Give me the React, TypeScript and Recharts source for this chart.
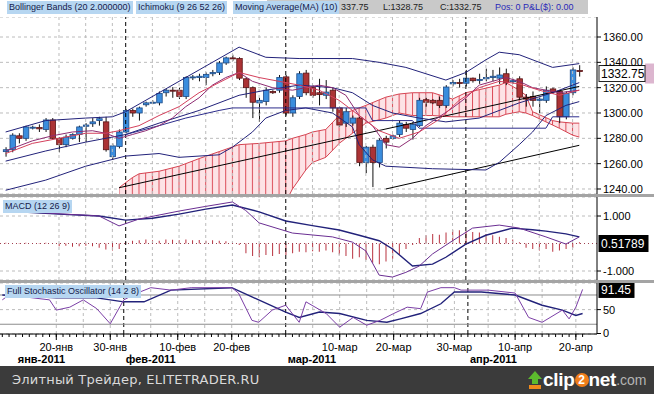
import React from "react";
import {
  ComposedChart,
  Bar,
  Line,
  Area,
  XAxis,
  YAxis,
  CartesianGrid,
  ReferenceLine,
} from "recharts";

// trading sessions, sunday evening bars included
const janDays = [11, 12, 13, 14, 16, 17, 18, 19, 20, 21, 23, 24, 25, 26, 27, 28, 30, 31];
const febDays = [1, 2, 3, 4, 6, 7, 8, 9, 10, 11, 13, 14, 15, 16, 17, 18, 20, 21, 22, 23, 24, 25, 27, 28];
const marDays = [1, 2, 3, 4, 6, 7, 8, 9, 10, 11, 13, 14, 15, 16, 17, 18, 20, 21, 22, 23, 24, 25, 27, 28, 29, 30, 31];
const aprDays = [1, 3, 4, 5, 6, 7, 8, 10, 11, 12, 13, 14, 15, 17, 18, 19, 20, 21];

const opens = [
  1269.5, 1271, 1282, 1280, 1288.5, 1288.5, 1287, 1294.5, 1280, 1275,
  1280, 1283, 1289.5, 1291.5, 1294, 1293, 1265.5, 1273.5, 1285, 1302,
  1300, 1306.5, 1308, 1308, 1316, 1318, 1318, 1313, 1328, 1328,
  1328, 1331, 1332, 1339.5, 1343.5, 1343, 1327, 1320, 1308, 1309,
  1317, 1318, 1328.5, 1300, 1313, 1331.5, 1320, 1316, 1314, 1318,
  1304, 1292, 1292, 1296, 1261, 1273, 1261, 1280, 1280, 1283,
  1291, 1287, 1290, 1310.5, 1310, 1310, 1306, 1323, 1324, 1323.5,
  1327.5, 1326, 1327, 1328, 1327.5, 1331, 1325, 1327, 1312.5, 1313,
  1310, 1310, 1319, 1317, 1297, 1316, 1333.5,
];
const highs = [
  1273, 1284, 1284, 1290, 1290, 1291, 1296, 1296, 1281, 1283,
  1284, 1290, 1292, 1296, 1297, 1297, 1276, 1287, 1303, 1303.5,
  1305, 1309, 1310, 1317, 1319, 1320.5, 1320, 1329, 1330, 1331,
  1332, 1334, 1341, 1344.5, 1346, 1344, 1328, 1321, 1312, 1320,
  1318, 1330, 1330, 1314, 1333, 1334, 1322, 1327, 1326, 1320,
  1305, 1304, 1298, 1297, 1274, 1275, 1280, 1282, 1283, 1294,
  1293, 1293, 1312, 1312, 1311, 1313, 1322, 1326, 1327, 1334,
  1328, 1331, 1335, 1334, 1336, 1335, 1327, 1329, 1315, 1317,
  1313, 1321, 1320, 1318, 1317, 1336, 1337.75,
];
const lows = [
  1265.5, 1269, 1276, 1278, 1287, 1285, 1285, 1279, 1269, 1273,
  1279, 1277, 1277, 1289, 1290, 1269.5, 1263, 1272, 1284, 1297,
  1294, 1305, 1307, 1306, 1313, 1312, 1311, 1311, 1326, 1325,
  1322, 1329, 1330, 1338, 1341, 1326, 1312, 1296, 1293, 1306,
  1315, 1316, 1298, 1297, 1311, 1314, 1312, 1306, 1311, 1301,
  1289, 1289, 1290, 1258, 1252.5, 1241.5, 1257, 1272, 1279, 1281,
  1285, 1279, 1289, 1305, 1307, 1304, 1304, 1321, 1320, 1321,
  1324, 1323, 1325, 1325, 1323, 1322, 1323, 1311, 1305, 1305,
  1300, 1308, 1315, 1292, 1295, 1314, 1328.75,
];
const closes = [
  1271, 1282.5, 1280, 1289, 1288.8, 1287.5, 1294.5, 1280, 1275, 1281,
  1283, 1289, 1290.5, 1293, 1295.5, 1271, 1274, 1285, 1302, 1300,
  1304, 1308, 1308.5, 1315.5, 1318, 1317.5, 1313, 1328, 1328.5, 1329,
  1330.5, 1332, 1339.5, 1343.5, 1343, 1327.5, 1320, 1308.5, 1310, 1318,
  1316, 1328, 1300, 1312, 1331, 1316, 1314, 1314.5, 1316.5, 1304,
  1290.5, 1301, 1296, 1261, 1273, 1261, 1278.5, 1277, 1282, 1292,
  1288, 1291, 1310, 1308.5, 1308, 1306, 1320.5, 1324, 1323.5, 1327.5,
  1325.5, 1326.5, 1328, 1329, 1330, 1324, 1325.5, 1312.5, 1311, 1310,
  1311, 1318, 1317, 1297, 1315.5, 1334, 1332.75,
];

// indicator lines as [bar index, value]
const bbUpper = [[0, 1285], [6, 1294], [12, 1296], [16, 1297], [18, 1301], [23, 1316], [29, 1334], [35, 1352], [39, 1344], [44, 1343], [52, 1343], [56, 1340], [60, 1336], [66, 1326], [69, 1332], [72, 1342], [74, 1348], [77, 1346], [82, 1336], [86, 1339]];
const bbMid = [[0, 1262], [6, 1270], [12, 1277], [18, 1283], [23, 1292], [29, 1302], [35, 1314], [39, 1318], [44, 1322], [49, 1320], [52, 1316], [55, 1306], [58, 1300], [62, 1296], [66, 1293], [71, 1296], [77, 1308], [82, 1316], [86, 1324]];
const bbLower = [[0, 1239], [6, 1247], [12, 1258], [18, 1266], [23, 1268], [26, 1265], [32, 1267], [34, 1273], [37, 1285], [39, 1296], [42, 1302], [45, 1304], [49, 1300], [52, 1289], [53, 1275], [55, 1263], [57, 1258], [64, 1256], [72, 1255], [74, 1261], [77, 1275], [79, 1285], [81, 1298], [84, 1306], [86, 1309]];
const kijun = [[18, 1283], [23, 1290], [27, 1296], [32, 1302], [34, 1304], [54, 1304], [55, 1294], [61, 1294], [62, 1288], [81, 1288], [82, 1297], [86, 1297]];
const tenkan = [[0, 1270], [4, 1278], [7, 1282], [10, 1285], [13, 1286], [15, 1284], [17, 1280], [19, 1283], [21, 1286], [23, 1290], [25, 1296], [27, 1305], [29, 1312], [31, 1322], [33, 1328], [35, 1332], [37, 1325], [40, 1320], [43, 1318], [45, 1320], [47, 1322], [49, 1320], [51, 1314], [53, 1298], [55, 1290], [57, 1275], [59, 1273], [61, 1280], [63, 1290], [65, 1297], [67, 1304], [69, 1312], [71, 1322], [73, 1325], [75, 1328], [77, 1325], [79, 1320], [81, 1318], [83, 1316], [86, 1318]];
const ma10 = [[0, 1268], [4, 1276], [8, 1280], [12, 1284], [15, 1284], [17, 1286], [20, 1290], [23, 1298], [26, 1305], [29, 1316], [32, 1324], [35, 1332], [38, 1328], [41, 1325], [44, 1322], [47, 1318], [50, 1310], [53, 1298], [56, 1286], [59, 1280], [62, 1285], [65, 1295], [68, 1310], [71, 1320], [74, 1325], [77, 1323], [80, 1318], [83, 1314], [86, 1318]];
// cloud: [bar index, lower edge, upper edge]
const kumo = [[17, 1230, 1241], [19, 1230, 1249], [20, 1230, 1252], [23, 1230, 1254], [26, 1230, 1258], [29, 1230, 1264], [32, 1230, 1269.5], [35, 1230, 1275], [38, 1230, 1276], [42, 1230, 1278], [43, 1240, 1280], [45, 1255, 1283], [46, 1261, 1285], [48, 1265, 1287], [50, 1276, 1298], [52, 1284, 1302], [54, 1292, 1306], [57, 1296, 1312.5], [59, 1300, 1315], [61, 1298, 1316], [64, 1298, 1316], [67, 1297, 1311], [69, 1297, 1316], [74, 1297, 1322], [75, 1299, 1324], [77, 1301, 1318], [78, 1300, 1314], [79, 1298, 1301], [82, 1290.5, 1294], [83, 1288, 1293], [85, 1282.5, 1292], [86, 1281, 1292]];
const trendLines = [
  [["01-31", 1241], ["04-21", 1321]],
  [["03-18", 1240], ["04-21", 1274.5]],
];

const macdLine = [[0, 1.2], [8, 1.08], [12, 1.03], [14, 1.0], [17, 0.64], [20, 0.89], [26, 1.18], [30, 1.35], [34, 1.51], [36, 1.2], [38, 0.75], [43, 0.38], [49, 0.24], [52, 0.05], [54, -0.27], [56, -1.15], [58, -1.22], [60, -1.05], [62, -0.82], [64, -0.38], [67, 0.1], [70, 0.56], [74, 0.67], [77, 0.56], [81, 0.24], [84, -0.02], [86, 0.24]];
const macdSignal = [[0, 1.18], [8, 1.07], [14, 1.0], [18, 0.85], [22, 0.92], [26, 1.07], [30, 1.25], [34, 1.4], [38, 1.15], [42, 0.82], [46, 0.65], [50, 0.49], [53, 0.3], [56, 0.1], [58, -0.2], [61, -0.82], [64, -0.75], [66, -0.5], [69, -0.02], [72, 0.3], [76, 0.56], [79, 0.5], [81, 0.45], [84, 0.35], [86, 0.24]];
const macdHist = [
  0.03, 0.02, 0.02, 0.03, 0.02, 0.02, 0.03, 0.02,
  -0.1, -0.08, -0.12, -0.1, -0.08, -0.1, -0.15, -0.22, -0.25, -0.2,
  0.05, 0.1, 0.12, 0.15, 0.12, 0.1, 0.15, 0.14, 0.12, 0.15, 0.12, 0.13, 0.1, 0.12, 0.1, 0.08,
  0.02, -0.05,
  -0.35, -0.45, -0.5, -0.42, -0.45, -0.38, -0.42,
  -0.35, -0.3, -0.32, -0.28, -0.3, -0.25, -0.32,
  -0.4, -0.45, -0.55, -0.5, -0.6,
  -0.7, -0.75, -0.65, -0.55,
  -0.4, -0.2, -0.05,
  0.2, 0.3, 0.35, 0.32, 0.4,
  0.5, 0.48, 0.45, 0.42, 0.4, 0.35, 0.3,
  0.25, 0.2, 0.15,
  0.05,
  -0.15, -0.2, -0.25, -0.2, -0.3, -0.25, -0.2, -0.15,
  0.05,
];

const stochK = [[0, 70], [1, 80], [7, 70], [8, 49], [10, 55], [12, 70], [14, 52], [16, 21], [18, 70], [20, 84], [22, 95], [25, 90], [28, 95], [34, 95], [35, 84], [37, 28], [38, 24], [40, 49], [42, 59], [44, 24], [45, 66], [48, 42], [50, 14], [52, 34], [54, 18], [56, 28], [58, 42], [60, 55], [62, 52], [63, 86], [65, 95], [67, 95], [68, 90], [72, 90], [76, 84], [78, 34], [80, 24], [83, 49], [84, 31], [85, 55], [86, 91.45]];
const stochD = [[0, 80], [8, 74], [14, 74], [18, 66], [21, 66], [25, 90], [34, 95], [37, 76], [42, 45], [44, 34], [47, 45], [50, 42], [54, 28], [57, 24], [59, 31], [62, 42], [65, 62], [67, 86], [71, 86], [76, 80], [80, 59], [83, 49], [85, 38], [86, 42]];

const priceTicks = [1240, 1260, 1280, 1300, 1320, 1340, 1360];
const macdTicks = [-1, 1];
const stochTicks = [0, 50];
const dayLabels: Record<string, string> = {
  "01-20": "20-янв", "01-30": "30-янв", "02-10": "10-фев", "02-20": "20-фев",
  "03-10": "10-мар", "03-20": "20-мар", "03-30": "30-мар", "04-10": "10-апр", "04-20": "20-апр",
};
const monthLabels: Record<string, string> = {
  "01-13": "янв-2011", "02-01": "фев-2011", "03-01": "мар-2011", "04-01": "апр-2011",
};
const gridDates = ["01-20", "01-25", "01-30", "02-06", "02-10", "02-15", "02-20", "02-24", "03-06", "03-10", "03-15", "03-20", "03-25", "03-30", "04-05", "04-10", "04-14", "04-20"];
const monthStarts = ["02-01", "03-01", "04-01"];

const pad = (n: number) => (n < 10 ? "0" + n : "" + n);
const dates = [
  ...janDays.map((d) => "01-" + pad(d)),
  ...febDays.map((d) => "02-" + pad(d)),
  ...marDays.map((d) => "03-" + pad(d)),
  ...aprDays.map((d) => "04-" + pad(d)),
];

const rows: any[] = dates.map((d, i) => ({
  d,
  o: opens[i],
  h: highs[i],
  l: lows[i],
  c: closes[i],
  hl: [lows[i], highs[i]],
  hist: macdHist[i],
}));
const put = (key: string, pts: number[][]) =>
  pts.forEach(([i, v]) => {
    rows[i][key] = v;
  });
put("bbUp", bbUpper);
put("bbMid", bbMid);
put("bbLow", bbLower);
put("kijun", kijun);
put("tenkan", tenkan);
put("ma", ma10);
put("macd", macdLine);
put("sig", macdSignal);
put("k", stochK);
put("dd", stochD);
kumo.forEach(([i, lo, hi]) => {
  rows[i].kumo = [lo, hi];
});

const W = 654;
const AXIS_W = 57;
const PAD = { left: 2.3, right: 14.4 };
const MARGIN = { top: 0, right: 0, bottom: 0, left: 0 };
const FONT = "'Liberation Sans', Arial, sans-serif";
const NAVY = "#22227a";

function Candle(props: any) {
  const { x, y, width, height, payload } = props;
  if (!payload || x == null || y == null) return null;
  const { o, c, h, l } = payload;
  const k = h - l > 0 ? height / (h - l) : 0;
  const top = y + (h - Math.max(o, c)) * k;
  const bot = y + (h - Math.min(o, c)) * k;
  const cx = x + width / 2;
  const up = c >= o;
  return (
    <g>
      <line x1={cx} x2={cx} y1={y} y2={y + height} stroke="#111" strokeWidth={1} />
      <rect
        x={x}
        y={top}
        width={width}
        height={Math.max(1, bot - top)}
        fill={up ? "#3b8ddd" : "#ab3335"}
        stroke={up ? "#1d4a86" : "#5a1416"}
        strokeWidth={0.8}
      />
    </g>
  );
}

function ValueTag(props: any) {
  const { viewBox, text, dark, w, dy } = props;
  if (!viewBox) return null;
  const y = viewBox.y + (dy || 0);
  return (
    <g>
      {!dark && <rect x={645} y={y - 10} width={9} height={20} fill="#dcb6cf" />}
      <rect
        x={599}
        y={y - 8}
        width={w}
        height={16}
        fill={dark ? "#000" : "#fff"}
        stroke={dark ? "#000" : "#222"}
        strokeWidth={1}
      />
      <text x={601} y={y + 4.5} fontSize={12} fill={dark ? "#fff" : "#000"}>
        {text}
      </text>
    </g>
  );
}

function ValueTick(props: any) {
  const { x, y, payload, fmt } = props;
  return (
    <text x={x} y={y + 4} fontSize={11} fill="#000">
      {fmt ? fmt(payload.value) : String(payload.value)}
    </text>
  );
}

function DateTick(props: any) {
  const { x, y, payload } = props;
  const day = dayLabels[payload.value];
  const month = monthLabels[payload.value];
  if (!day && !month) return null;
  return (
    <g>
      {day ? <line x1={x} x2={x} y1={y - 5} y2={y + 1} stroke="#000" /> : null}
      {day ? (
        <text x={x} y={y + 12} textAnchor="middle" fontSize={11} fill="#000">
          {day}
        </text>
      ) : null}
      {month ? (
        <text x={x + 2} y={y + 24} fontSize={11} fontWeight="bold" fill="#000">
          {month}
        </text>
      ) : null}
    </g>
  );
}

const vGrid = (prefix: string) => [
  ...gridDates.map((d) => (
    <ReferenceLine key={prefix + "g" + d} x={d} stroke="#bcbcbc" strokeDasharray="3 3" />
  )),
  ...monthStarts.map((d) => (
    <ReferenceLine key={prefix + "m" + d} x={d} stroke="#000" strokeDasharray="4 3" />
  )),
];

const chip: React.CSSProperties = {
  position: "absolute",
  height: 13,
  lineHeight: "13px",
  background: "#b6d6f1",
  color: "#15204a",
  fontSize: 9,
  padding: "0 2px",
  whiteSpace: "nowrap",
};
const quote: React.CSSProperties = {
  position: "absolute",
  top: 0,
  fontSize: 9,
  lineHeight: "14px",
  color: "#222",
  whiteSpace: "nowrap",
};

export default function App() {
  return (
    <div
      style={{
        position: "absolute",
        left: 0,
        top: 0,
        width: W,
        height: 394,
        background: "#fff",
        fontFamily: FONT,
        overflow: "hidden",
      }}
    >
      <style>{"body{margin:0}"}</style>

      {/* price panel */}
      <div style={{ position: "absolute", left: 0, top: 17 }}>
        <ComposedChart width={W} height={177} data={rows} margin={MARGIN}>
          <defs>
            <pattern id="kumoHatch" patternUnits="userSpaceOnUse" x={5.1} y={0} width={6.67} height={8}>
              <rect width={6.67} height={8} fill="#fde3e6" />
              <line x1={0.5} x2={0.5} y1={0} y2={8} stroke="#dc4d5a" strokeWidth={1} />
            </pattern>
          </defs>
          <CartesianGrid vertical={false} stroke="#bcbcbc" strokeDasharray="3 3" />
          <XAxis dataKey="d" hide padding={PAD} />
          <YAxis
            orientation="right"
            width={AXIS_W}
            domain={[1236.05, 1375.79]}
            allowDataOverflow
            ticks={priceTicks}
            interval={0}
            tick={<ValueTick fmt={(v: number) => v.toFixed(2)} />}
            tickSize={4}
            stroke="#000"
          />
          {vGrid("p")}
          <Area
            dataKey="kumo"
            type="linear"
            fill="url(#kumoHatch)"
            fillOpacity={1}
            stroke="#d54452"
            strokeWidth={1}
            connectNulls
            dot={false}
            activeDot={false}
            isAnimationActive={false}
          />
          {trendLines.map((seg, i) => (
            <ReferenceLine
              key={"t" + i}
              segment={[
                { x: seg[0][0], y: seg[0][1] },
                { x: seg[1][0], y: seg[1][1] },
              ]}
              stroke="#000"
              strokeWidth={1}
            />
          ))}
          <Line dataKey="bbUp" type="linear" stroke={NAVY} dot={false} activeDot={false} connectNulls isAnimationActive={false} />
          <Line dataKey="bbMid" type="linear" stroke={NAVY} dot={false} activeDot={false} connectNulls isAnimationActive={false} />
          <Line dataKey="bbLow" type="linear" stroke={NAVY} dot={false} activeDot={false} connectNulls isAnimationActive={false} />
          <Line dataKey="kijun" type="linear" stroke="#2c2c8c" dot={false} activeDot={false} connectNulls isAnimationActive={false} />
          <Line dataKey="tenkan" type="linear" stroke="#8e2c72" dot={false} activeDot={false} connectNulls isAnimationActive={false} />
          <Line dataKey="ma" type="linear" stroke="#d4405c" dot={false} activeDot={false} connectNulls isAnimationActive={false} />
          <Bar dataKey="hl" barSize={5.5} shape={<Candle />} isAnimationActive={false} />
          <ReferenceLine y={1332.75} stroke="none" label={<ValueTag text="1332.75" w={46} dy={2} />} />
        </ComposedChart>
      </div>

      {/* MACD panel */}
      <div style={{ position: "absolute", left: 0, top: 197 }}>
        <ComposedChart width={W} height={83} data={rows} margin={MARGIN}>
          <CartesianGrid vertical={false} stroke="#bcbcbc" strokeDasharray="3 3" />
          <XAxis dataKey="d" hide padding={PAD} />
          <YAxis
            orientation="right"
            width={AXIS_W}
            domain={[-1.327, 1.691]}
            allowDataOverflow
            ticks={macdTicks}
            interval={0}
            tick={<ValueTick fmt={(v: number) => v.toFixed(3)} />}
            tickSize={4}
            stroke="#000"
          />
          {vGrid("m")}
          <ReferenceLine y={0} stroke="#a04050" strokeDasharray="1 3" label={<ValueTag text="0.51789" dark w={49} />} />
          <Bar dataKey="hist" barSize={1} fill="#b8323f" isAnimationActive={false} />
          <Line dataKey="sig" type="linear" stroke={NAVY} strokeWidth={1.4} dot={false} activeDot={false} connectNulls isAnimationActive={false} />
          <Line dataKey="macd" type="linear" stroke="#6a2e92" dot={false} activeDot={false} connectNulls isAnimationActive={false} />
        </ComposedChart>
      </div>

      {/* stochastic panel */}
      <div style={{ position: "absolute", left: 0, top: 283 }}>
        <ComposedChart width={W} height={84} data={rows} margin={MARGIN}>
          <CartesianGrid vertical={false} stroke="#bcbcbc" strokeDasharray="3 3" />
          <XAxis
            dataKey="d"
            padding={PAD}
            height={33}
            interval={0}
            tickSize={3}
            stroke="#000"
            tick={<DateTick />}
          />
          <YAxis
            orientation="right"
            width={AXIS_W}
            domain={[0, 104.6]}
            allowDataOverflow
            ticks={stochTicks.filter((v) => v > 0)}
            interval={0}
            tick={<ValueTick />}
            tickSize={4}
            stroke="#000"
          />
          {vGrid("s")}
          <ReferenceLine y={80} stroke="#8c8c8c" />
          <ReferenceLine y={20} stroke="#8c8c8c" />
          <ReferenceLine y={91.45} stroke="none" label={<ValueTag text="91.45" dark w={35} />} />
          <Line dataKey="dd" type="linear" stroke={NAVY} strokeWidth={1.4} dot={false} activeDot={false} connectNulls isAnimationActive={false} />
          <Line dataKey="k" type="linear" stroke="#7b3fa6" dot={false} activeDot={false} connectNulls isAnimationActive={false} />
        </ComposedChart>
      </div>
      {/* zero label of the stochastic axis */}
      <div style={{ position: "absolute", left: 597, top: 333, width: 4, height: 1, background: "#000" }} />
      <div style={{ position: "absolute", left: 603, top: 326, fontSize: 11, lineHeight: "14px", color: "#000" }}>
        {stochTicks[0]}
      </div>

      {/* panel separators */}
      <div style={{ position: "absolute", left: 0, top: 194, width: W, height: 3, background: "#a4a4a4" }} />
      <div style={{ position: "absolute", left: 0, top: 280, width: W, height: 3, background: "#a4a4a4" }} />

      {/* header strip */}
      <div style={{ position: "absolute", left: 267, top: 0, width: 321, height: 14, background: "#c9c9c9" }} />
      <div style={{ ...quote, left: 341 }}>337.75</div>
      <div style={{ ...quote, left: 383 }}>L:1328.75</div>
      <div style={{ ...quote, left: 440 }}>C:1332.75</div>
      <div style={{ ...quote, left: 495, color: "#2a2ab8" }}>Pos: 0 P&amp;L($): 0.00</div>
      <div style={{ ...chip, left: 7, top: 1 }}>Bollinger Bands (20 2.000000)</div>
      <div style={{ ...chip, left: 136, top: 1 }}>Ichimoku (9 26 52 26)</div>
      <div style={{ ...chip, left: 233, top: 1 }}>Moving Average(MA) (10)</div>

      <div style={{ ...chip, left: 3, top: 200 }}>MACD (12 26 9)</div>
      <div style={{ ...chip, left: 5, top: 285 }}>Full Stochastic Oscillator (14 2 8)</div>

      {/* footer */}
      <div
        style={{
          position: "absolute",
          left: 0,
          top: 366,
          width: W,
          height: 28,
          background: "#3b3b3b",
        }}
      >
        <div
          style={{
            position: "absolute",
            left: 12,
            top: 0,
            lineHeight: "28px",
            fontSize: 13,
            letterSpacing: 0.2,
            fontFamily: "'DejaVu Sans', sans-serif",
            color: "#dadada",
            whiteSpace: "nowrap",
          }}
        >
          Элитный Трейдер, ELITETRADER.RU
        </div>
        <div
          style={{
            position: "absolute",
            left: 528,
            top: 0,
            height: 28,
            display: "flex",
            alignItems: "center",
            fontFamily: FONT,
            fontWeight: "bold",
            whiteSpace: "nowrap",
          }}
        >
          <svg width={14} height={18} style={{ marginRight: 1 }}>
            <polygon points="7,0 14,8 10,8 10,13 4,13 4,8 0,8" fill="#5dbb2e" />
            <rect x={1} y={14} width={12} height={4} fill="#f08a1c" />
          </svg>
          <span style={{ fontSize: 19, color: "#fff", letterSpacing: -0.3 }}>clip</span>
          <span
            style={{
              display: "inline-block",
              width: 14,
              height: 14,
              borderRadius: 7,
              background: "#f07d1a",
              color: "#fff",
              fontSize: 12,
              lineHeight: "14px",
              textAlign: "center",
            }}
          >
            2
          </span>
          <span style={{ fontSize: 19, color: "#fff", letterSpacing: -0.3 }}>net</span>
          <span style={{ fontSize: 14, color: "#b4b4b4", fontWeight: "normal" }}>.com</span>
        </div>
      </div>
    </div>
  );
}
